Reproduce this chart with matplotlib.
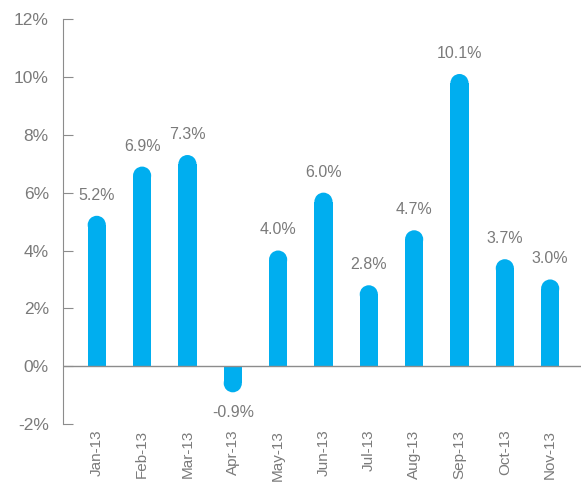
import matplotlib
matplotlib.use('Agg')
import matplotlib.pyplot as plt
from matplotlib.patches import Ellipse
from matplotlib.ticker import FuncFormatter

months = ['Jan-13', 'Feb-13', 'Mar-13', 'Apr-13', 'May-13', 'Jun-13',
          'Jul-13', 'Aug-13', 'Sep-13', 'Oct-13', 'Nov-13']
values = [5.2, 6.9, 7.3, -0.9, 4.0, 6.0, 2.8, 4.7, 10.1, 3.7, 3.0]

blue = '#00AEEF'
grey = '#7a7a7a'
line_grey = '#8c8c8c'

plt.rcParams['font.family'] = ['Liberation Sans', 'DejaVu Sans']

fig = plt.figure(figsize=(5.81, 4.82), dpi=100)
ax = fig.add_axes([0.108, 0.120, 0.892, 0.8406])

ax.set_xlim(-0.75, 10.68)
ax.set_ylim(-2, 12)

bw = 0.4
# cap height in data units so the ellipse renders as a circle
bbox = ax.get_window_extent()
px_per_x = bbox.width / (10.68 + 0.75)
px_per_y = bbox.height / 14
cap_h = bw * px_per_x / px_per_y
r = cap_h / 2

for i, v in enumerate(values):
    s = 1 if v >= 0 else -1
    ax.bar(i, v - s * r, width=bw, color=blue, linewidth=0, zorder=2)
    ax.add_patch(Ellipse((i, v - s * r), bw, cap_h, color=blue, linewidth=0, zorder=2))
    if v >= 0:
        ax.text(i, v + 0.45, f'{v:.1f}%', ha='center', va='bottom', color=grey, fontsize=11.5)
    else:
        ax.text(i, v - 0.45, f'{v:.1f}%', ha='center', va='top', color=grey, fontsize=11.5)

ax.axhline(0, color=line_grey, lw=1, zorder=3)

for side in ['top', 'right', 'bottom']:
    ax.spines[side].set_visible(False)
ax.spines['left'].set_color(line_grey)

ax.set_yticks(range(-2, 13, 2))
ax.yaxis.set_major_formatter(FuncFormatter(lambda y, p: f'{y:.0f}%'))
ax.tick_params(axis='y', direction='in', length=7, color=line_grey, labelcolor=grey, labelsize=12.5, pad=10)

ax.set_xticks(range(len(months)))
ax.set_xticklabels(months, rotation=90)
ax.tick_params(axis='x', length=0, labelcolor=grey, labelsize=11, pad=4)

fig.savefig('out.png', dpi=100)
